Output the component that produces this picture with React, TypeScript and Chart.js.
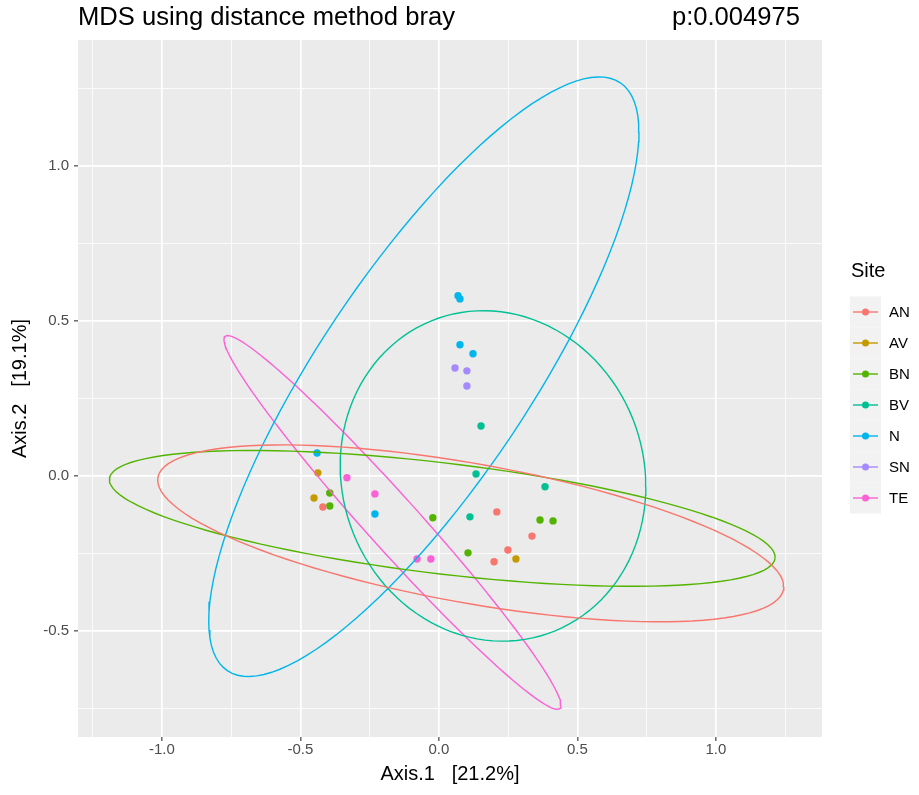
import React, { useEffect, useRef } from 'react';
import { Chart, registerables } from 'chart.js';

Chart.register(...registerables);

// ---- data ----
const sites = ['AN', 'AV', 'BN', 'BV', 'N', 'SN', 'TE'];
const siteColors = ['#F8766D', '#C49A00', '#53B400', '#00C094', '#00B6EB', '#A58AFF', '#FB61D7'];

const AN_x = [-0.419, 0.209, 0.336, 0.249, 0.199];
const AN_y = [-0.100, -0.116, -0.194, -0.239, -0.277];
const AV_x = [-0.437, -0.451, 0.278];
const AV_y = [0.010, -0.071, -0.268];
const BN_x = [-0.394, -0.394, -0.022, 0.365, 0.412, 0.105];
const BN_y = [-0.055, -0.097, -0.135, -0.142, -0.145, -0.248];
const BV_x = [0.152, 0.134, 0.383, 0.112];
const BV_y = [0.161, 0.006, -0.035, -0.132];
const N_x = [0.069, 0.076, 0.076, 0.123, -0.231, -0.440];
const N_y = [0.581, 0.571, 0.423, 0.394, -0.123, 0.074];
const SN_x = [0.058, 0.101, 0.101];
const SN_y = [0.348, 0.339, 0.290];
const TE_x = [-0.332, -0.231, -0.079, -0.029];
const TE_y = [-0.006, -0.058, -0.268, -0.268];

const siteX = [AN_x, AV_x, BN_x, BV_x, N_x, SN_x, TE_x];
const siteY = [AN_y, AV_y, BN_y, BV_y, N_y, SN_y, TE_y];

// sites that get a 95% normal-theory ellipse (stat_ellipse)
const ellipseSites = ['AN', 'BN', 'BV', 'N', 'TE'];
const ellipseLevel = 0.95;

const xMajorTicks = [-1.0, -0.5, 0.0, 0.5, 1.0];
const xMinorTicks = [-1.25, -0.75, -0.25, 0.25, 0.75, 1.25];
const yMajorTicks = [-0.5, 0.0, 0.5, 1.0];
const yMinorTicks = [-0.75, -0.25, 0.25, 0.75, 1.25];

const xRange = [-1.303, 1.383];
const yRange = [-0.842, 1.406];

const titleText = 'MDS using distance method bray';
const pText = 'p:0.004975';
const xTitle = 'Axis.1   [21.2%]';
const yTitle = 'Axis.2   [19.1%]';
const legendTitle = 'Site';

const FONT = '"Liberation Sans", Arial, Helvetica, sans-serif';

// ellipse outline computed from the group points (like ggplot2 stat_ellipse, type = "norm")
function ellipseOutline(xs: number[], ys: number[], level: number, segments = 120) {
  const n = xs.length;
  const mx = xs.reduce((a, b) => a + b, 0) / n;
  const my = ys.reduce((a, b) => a + b, 0) / n;
  let sxx = 0, syy = 0, sxy = 0;
  for (let i = 0; i < n; i++) {
    sxx += (xs[i] - mx) ** 2;
    syy += (ys[i] - my) ** 2;
    sxy += (xs[i] - mx) * (ys[i] - my);
  }
  sxx /= n - 1; syy /= n - 1; sxy /= n - 1;
  const dfd = n - 1;
  const fq = (dfd / 2) * (Math.pow(1 - level, -2 / dfd) - 1); // qf(level, 2, dfd)
  const r = Math.sqrt(2 * fq);
  const a = Math.sqrt(sxx);
  const b = sxy / a;
  const c = Math.sqrt(Math.max(syy - b * b, 0));
  const pts: { x: number; y: number }[] = [];
  for (let i = 0; i <= segments; i++) {
    const t = (2 * Math.PI * i) / segments;
    pts.push({ x: mx + r * a * Math.cos(t), y: my + r * (b * Math.cos(t) + c * Math.sin(t)) });
  }
  return pts;
}

const isMajor = (v: number) => Math.abs(v * 2 - Math.round(v * 2)) < 1e-6;

const decorPlugin = {
  id: 'decor',
  beforeDraw(chart: any) {
    const { ctx, chartArea } = chart;
    ctx.save();
    ctx.fillStyle = '#FFFFFF';
    ctx.fillRect(0, 0, chart.width, chart.height);
    ctx.fillStyle = '#EBEBEB';
    ctx.fillRect(chartArea.left, chartArea.top, chartArea.right - chartArea.left, chartArea.bottom - chartArea.top);
    ctx.restore();
  },
  afterDraw(chart: any) {
    const { ctx, chartArea } = chart;
    ctx.save();
    // title + p value
    ctx.fillStyle = '#000000';
    ctx.font = `25.6px ${FONT}`;
    ctx.textBaseline = 'middle';
    ctx.textAlign = 'left';
    ctx.fillText(titleText, chartArea.left, 18);
    ctx.textAlign = 'right';
    ctx.fillText(pText, 800, 18);
    // axis titles
    ctx.font = `20px ${FONT}`;
    ctx.textAlign = 'center';
    ctx.fillText(xTitle, (chartArea.left + chartArea.right) / 2, 774);
    ctx.save();
    ctx.translate(20, (chartArea.top + chartArea.bottom) / 2);
    ctx.rotate(-Math.PI / 2);
    ctx.fillText(yTitle, 0, 0);
    ctx.restore();
    // legend
    ctx.textAlign = 'left';
    ctx.font = `20px ${FONT}`;
    ctx.fillText(legendTitle, 851, 271);
    const keyX = 850, keyW = 31, keyH = 31, key0 = 296.5;
    ctx.font = `15px ${FONT}`;
    sites.forEach((s, i) => {
      const y0 = key0 + i * keyH;
      ctx.fillStyle = '#F2F2F2';
      ctx.fillRect(keyX, y0, keyW, keyH);
      const cy = y0 + keyH / 2;
      ctx.strokeStyle = siteColors[i];
      ctx.lineWidth = 1.4;
      ctx.beginPath();
      ctx.moveTo(keyX + 3, cy);
      ctx.lineTo(keyX + keyW - 3, cy);
      ctx.stroke();
      ctx.fillStyle = siteColors[i];
      ctx.beginPath();
      ctx.arc(keyX + keyW / 2, cy, 3.5, 0, Math.PI * 2);
      ctx.fill();
      ctx.fillStyle = '#000000';
      ctx.fillText(s, keyX + keyW + 8, cy + 1);
    });
    ctx.restore();
  },
};

export default function App() {
  const ref = useRef<HTMLCanvasElement | null>(null);
  useEffect(() => {
    if (!ref.current) return;
    const pointSets = sites.map((s, i) => ({
      type: 'scatter' as const,
      label: s,
      data: siteX[i].map((x, j) => ({ x, y: siteY[i][j] })),
      backgroundColor: siteColors[i],
      borderWidth: 0,
      pointRadius: 3.7,
      showLine: false,
      order: 2,
    }));
    const ellipseSets = sites
      .map((s, i) => ({ s, i }))
      .filter(({ s }) => ellipseSites.includes(s))
      .map(({ s, i }) => ({
        type: 'scatter' as const,
        label: s + ' ellipse',
        data: ellipseOutline(siteX[i], siteY[i], ellipseLevel),
        borderColor: siteColors[i],
        backgroundColor: siteColors[i],
        borderWidth: 1.4,
        pointRadius: 0,
        showLine: true,
        fill: false,
        tension: 0,
        order: 1,
      }));
    const xTicks = [...xMajorTicks, ...xMinorTicks].sort((a, b) => a - b);
    const yTicks = [...yMajorTicks, ...yMinorTicks].sort((a, b) => a - b);
    const gridCommon = (major: number, minor: number) => ({
      color: '#FFFFFF',
      lineWidth: (ctx: any) => (ctx.tick && isMajor(ctx.tick.value) ? major : minor),
      drawTicks: true,
      tickLength: 4,
      tickWidth: 1.1,
      tickColor: (ctx: any) => (ctx.tick && isMajor(ctx.tick.value) ? '#333333' : 'rgba(0,0,0,0)'),
    });
    const chart = new Chart(ref.current, {
      type: 'scatter',
      data: { datasets: [...pointSets, ...ellipseSets] as any },
      plugins: [decorPlugin],
      options: {
        responsive: false,
        animation: false,
        devicePixelRatio: 1,
        layout: { padding: { left: 0, top: 40, right: 97, bottom: 0 } },
        plugins: { legend: { display: false }, tooltip: { enabled: false }, title: { display: false } },
        scales: {
          x: {
            type: 'linear',
            min: xRange[0],
            max: xRange[1],
            afterFit: (s: any) => { s.height = 58; },
            afterBuildTicks: (s: any) => { s.ticks = xTicks.map((v) => ({ value: v })); },
            border: { display: false },
            grid: gridCommon(1.7, 0.8) as any,
            ticks: {
              autoSkip: false,
              maxRotation: 0,
              padding: 0,
              color: '#4D4D4D',
              font: { family: FONT, size: 15 },
              callback: (v: any) => (isMajor(Number(v)) ? Number(v).toFixed(1) : ''),
            },
          },
          y: {
            type: 'linear',
            min: yRange[0],
            max: yRange[1],
            afterFit: (s: any) => { s.width = 78; },
            afterBuildTicks: (s: any) => { s.ticks = yTicks.map((v) => ({ value: v })); },
            border: { display: false },
            grid: gridCommon(1.7, 0.8) as any,
            ticks: {
              autoSkip: false,
              padding: 5,
              color: '#4D4D4D',
              font: { family: FONT, size: 15 },
              callback: (v: any) => (isMajor(Number(v)) ? Number(v).toFixed(1) : ''),
            },
          },
        },
      } as any,
    });
    return () => chart.destroy();
  }, []);
  return (
    <div style={{ position: 'fixed', left: 0, top: 0, width: 919, height: 795, background: '#fff' }}>
      <canvas ref={ref} width={919} height={795} style={{ display: 'block', width: 919, height: 795 }} />
    </div>
  );
}
